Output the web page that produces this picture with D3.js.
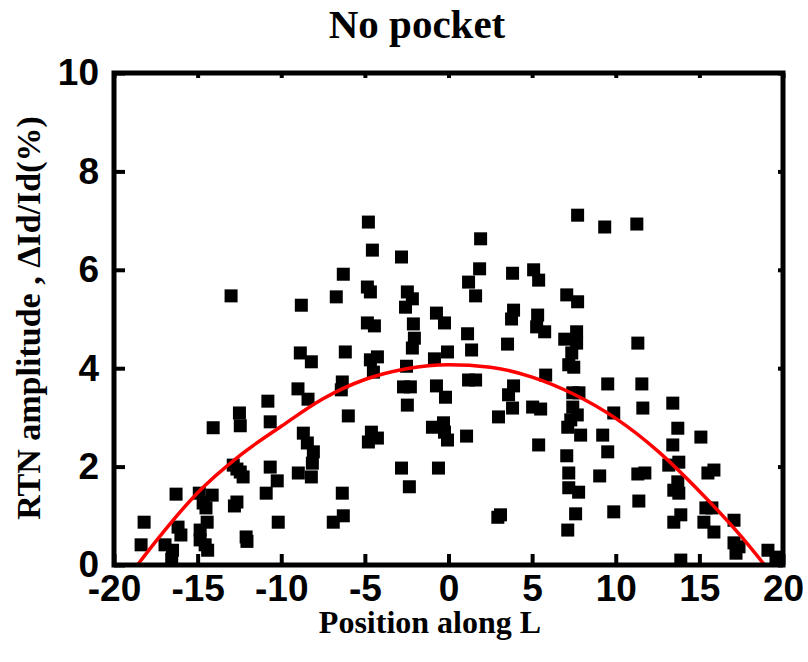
<!DOCTYPE html>
<html>
<head>
<meta charset="utf-8">
<script src="https://cdn.jsdelivr.net/npm/d3@7"></script>
<style>
  body { margin: 0; background: #fff; }
  svg { display: block; }
</style>
</head>
<body>
<div id="chart"></div>
<script>
// Data
const posX = [
  -13.0, -8.8, -8.86, -8.2, -9.0, -8.4, -10.8, -12.5, -12.45, -14.07,
  -10.66, -8.68, -8.44, -8.08, -8.14, -8.2, -8.98, -12.87, -12.45, -12.28,
  -12.65, -10.66, -10.24, -10.9, -16.29, -14.9, -14.13, -14.67, -12.8, -12.65,
  -14.5, -14.43, -10.18, -16.17, -18.2, -18.38, -16.95, -16.5, -16.55, -14.85,
  -14.85, -14.55, -14.4, -12.1, -12.05, -16.0,
  -4.79, 1.92, -4.55, -2.81, -6.29, -4.85, -4.67, -2.46, -2.16, -2.57,
  1.86, 1.2, 1.62, 3.83, 5.09, 5.39, -6.71, -0.72, -0.24, -4.85,
  -4.43, -2.1, -2.04, -2.16, 1.14, 1.38, 3.89, 3.77, 5.33, 5.27,
  5.75, -6.17, -4.67, -4.25, -4.49, -0.06, -0.84, -2.51, 3.53, 5.81,
  -6.35, -6.41, -2.69, -2.28, -0.72, 1.2, 1.62, 3.89, 3.59, -0.18,
  3.83, 2.99, -2.46, -5.99, 5.03, 5.51, -4.61, -4.79, -4.25, -0.96,
  -0.3, -0.24, -0.06, 1.08, 5.39, -2.81, -0.6, -2.34, -6.35, -6.29,
  -6.89, 3.11, 2.95,
  7.72, 9.34, 11.26, 7.07, 7.72, 6.95, 7.66, 7.66, 7.37, 7.19,
  7.49, 11.32, 9.52, 11.56, 7.43, 7.8,
  7.43, 7.31, 7.13, 7.9, 7.7, 9.88, 11.62, 13.41, 13.71, 15.09,
  9.22, 9.52, 7.07, 13.41, 13.77, 13.17, 7.19, 9.04, 11.32, 11.74,
  15.87, 15.51, 13.71, 13.77, 13.47, 7.19, 7.78, 11.38, 7.6, 9.88,
  7.13, 13.89, 13.47, 15.39, 15.75, 15.27, 15.87, 17.07, 17.07, 17.37,
  17.19, 13.89, 19.1, 19.58
];
const rtnAmp = [
  5.47, 5.28, 4.31, 4.13, 3.58, 3.37, 3.33, 3.09, 2.83, 2.79,
  2.91, 2.68, 2.48, 2.30, 2.07, 1.79, 1.87, 2.03, 1.89, 1.79,
  1.95, 1.99, 1.71, 1.46, 1.44, 1.46, 1.42, 1.26, 1.2, 1.28,
  1.16, 0.87, 0.87, 0.77, 0.87, 0.41, 0.41, 0.30, 0.12, 0.71,
  0.51, 0.41, 0.30, 0.57, 0.48, 0.61,
  6.97, 6.63, 6.40, 6.26, 5.91, 5.65, 5.55, 5.55, 5.41, 5.24,
  6.02, 5.75, 5.47, 5.93, 6.0, 5.79, 5.45, 5.12, 4.92, 4.92,
  4.86, 4.90, 4.61, 4.41, 4.70, 4.37, 5.18, 5.0, 5.08, 4.84,
  4.74, 4.33, 4.17, 4.23, 3.92, 4.33, 4.19, 4.04, 4.49, 3.86,
  3.72, 3.56, 3.62, 3.62, 3.64, 3.76, 3.76, 3.64, 3.46, 3.41,
  3.19, 3.01, 3.25, 3.03, 3.21, 3.17, 2.70, 2.50, 2.58, 2.80,
  2.89, 2.70, 2.54, 2.62, 2.44, 1.97, 1.97, 1.59, 1.46, 1.0,
  0.87, 1.02, 0.97,
  7.11, 6.87, 6.93, 5.49, 5.35, 4.59, 4.74, 4.51, 4.31, 4.07,
  4.02, 4.51, 3.68, 3.68, 3.5, 3.5,
  3.21, 2.95, 2.80, 2.64, 3.05, 3.09, 3.19, 3.29, 2.78, 2.60,
  2.64, 2.30, 2.22, 2.44, 2.09, 2.03, 1.87, 1.81, 1.85, 1.87,
  1.93, 1.87, 1.69, 1.46, 1.52, 1.57, 1.48, 1.3, 1.04, 1.08,
  0.71, 1.02, 0.87, 1.16, 1.16, 0.87, 0.67, 0.91, 0.45, 0.37,
  0.24, 0.1, 0.30, 0.16
];

// Red fitted curve
const fitX = [-18.6, -17.5, -15, -12.5, -10, -7.5, -5, -2.5, 0, 2.5, 5, 7.5, 10, 12.5, 15, 17.5, 18.9];
const fitY = [0, 0.48, 1.47, 2.22, 2.82, 3.38, 3.77, 3.99, 4.07, 4.02, 3.82, 3.47, 2.98, 2.32, 1.50, 0.58, 0];

const xTicks = [-20, -15, -10, -5, 0, 5, 10, 15, 20];
const yTicks = [0, 2, 4, 6, 8, 10];

const titleText = 'No pocket';
const xLabel = 'Position along L';
const yLabel = 'RTN amplitude , \u0394Id/Id(%)';

// Layout
const width = 808, height = 662;
const plotLeft = 114, plotRight = 783, plotTop = 73, plotBottom = 565;

const svg = d3.select('#chart')
    .append('svg')
    .attr('width', width)
    .attr('height', height);

svg.append('rect')
    .attr('width', width)
    .attr('height', height)
    .attr('fill', '#fff');

const xScale = d3.scaleLinear().domain([-20, 20]).range([plotLeft, plotRight]);
const yScale = d3.scaleLinear().domain([0, 10]).range([plotBottom, plotTop]);

const tickFont = '"Liberation Sans", Arial, sans-serif';
const serif = '"Liberation Serif", "Times New Roman", serif';
const plainNum = d => String(d); // hyphen minus, like the original

// Clip for the curve
svg.append('clipPath')
    .attr('id', 'plotClip')
    .append('rect')
    .attr('x', plotLeft)
    .attr('y', plotTop)
    .attr('width', plotRight - plotLeft)
    .attr('height', plotBottom - plotTop);

// Scatter squares
const sq = 13;
svg.append('g')
    .selectAll('rect')
    .data(d3.range(posX.length))
    .enter()
    .append('rect')
    .attr('x', i => xScale(posX[i]) - sq / 2)
    .attr('y', i => yScale(rtnAmp[i]) - sq / 2)
    .attr('width', sq)
    .attr('height', sq)
    .attr('fill', '#000');

// Fitted curve
const lineGenerator = d3.line()
    .x(i => xScale(fitX[i]))
    .y(i => yScale(fitY[i]))
    .curve(d3.curveMonotoneX);

svg.append('path')
    .datum(d3.range(fitX.length))
    .attr('clip-path', 'url(#plotClip)')
    .attr('fill', 'none')
    .attr('stroke', '#ff0000')
    .attr('stroke-width', 3.5)
    .attr('d', lineGenerator);

// Axes with inward ticks
const styleAxis = g => {
    g.select('.domain').remove();
    g.selectAll('.tick line').attr('stroke', '#000').attr('stroke-width', 4);
    g.selectAll('.tick text')
        .attr('fill', '#000')
        .style('font-family', tickFont)
        .style('font-weight', 'bold')
        .style('font-size', '37px');
};

svg.append('g')
    .attr('transform', `translate(0,${plotBottom})`)
    .call(d3.axisBottom(xScale).tickValues(xTicks).tickFormat(plainNum)
        .tickSizeInner(-11).tickSizeOuter(0).tickPadding(10))
    .call(styleAxis);

svg.append('g')
    .attr('transform', `translate(${plotLeft},0)`)
    .call(d3.axisLeft(yScale).tickValues(yTicks).tickFormat(plainNum)
        .tickSizeInner(-11).tickSizeOuter(0).tickPadding(15))
    .call(styleAxis);

svg.append('g')
    .attr('transform', `translate(0,${plotTop})`)
    .call(d3.axisTop(xScale).tickValues(xTicks).tickSizeInner(-5).tickSizeOuter(0).tickFormat(''))
    .call(styleAxis);

svg.append('g')
    .attr('transform', `translate(${plotRight},0)`)
    .call(d3.axisRight(yScale).tickValues(yTicks).tickSizeInner(-5).tickSizeOuter(0).tickFormat(''))
    .call(styleAxis);

// Frame
svg.append('rect')
    .attr('x', plotLeft)
    .attr('y', plotTop)
    .attr('width', plotRight - plotLeft)
    .attr('height', plotBottom - plotTop)
    .attr('fill', 'none')
    .attr('stroke', '#000')
    .attr('stroke-width', 5);

// Title and axis labels
svg.append('text')
    .attr('x', 417)
    .attr('y', 38)
    .attr('text-anchor', 'middle')
    .style('font-family', serif)
    .style('font-weight', 'bold')
    .style('font-size', '41px')
    .text(titleText);

svg.append('text')
    .attr('x', 430)
    .attr('y', 633)
    .attr('text-anchor', 'middle')
    .style('font-family', serif)
    .style('font-weight', 'bold')
    .style('font-size', '32px')
    .text(xLabel);

svg.append('text')
    .attr('transform', 'translate(40,318) rotate(-90)')
    .attr('text-anchor', 'middle')
    .style('font-family', serif)
    .style('font-weight', 'bold')
    .style('font-size', '34px')
    .text(yLabel);
</script>
</body>
</html>
